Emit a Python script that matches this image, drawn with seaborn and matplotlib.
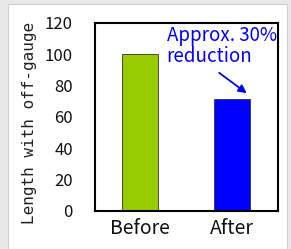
import matplotlib
matplotlib.use("Agg")
import matplotlib.pyplot as plt
from matplotlib.patches import Rectangle
import seaborn as sns
import pandas as pd

# values
periods = ["Before", "After"]
lengths = [100, 71]
bar_colors = ["#99cc00", "#0000ff"]
y_ticks = [0, 20, 40, 60, 80, 100, 120]

sns.set_style("white")
plt.rcParams['font.family'] = ['Noto Sans CJK JP', 'DejaVu Sans']

df = pd.DataFrame({"period": periods, "length": lengths})

fig = plt.figure(figsize=(2.91, 2.49), dpi=100, facecolor="#e8e8e8")
# white panel inside the grey frame
fig.patches.append(Rectangle((8 / 291, 0), 279 / 291, 245 / 249,
                             transform=fig.transFigure, facecolor="white",
                             edgecolor="#d0d0d0", linewidth=0.8, zorder=-5))
ax = fig.add_axes([95 / 291, 38.3 / 249, 183 / 291, 188 / 249])

sns.barplot(data=df, x="period", y="length", hue="period", palette=bar_colors,
            saturation=1, width=0.39, edgecolor="#333333", linewidth=0.6,
            legend=False, ax=ax)

ax.set_xlim(-0.49, 1.5)
ax.set_ylim(0, 120)
ax.set_yticks(y_ticks)
ax.set_xlabel("")
ax.set_ylabel("Length with off-gauge", fontsize=11.5, family="DejaVu Sans Mono",
              color="#222222")
ax.yaxis.set_label_coords(-0.315, 0.465)
ax.tick_params(axis="y", direction="in", length=5, width=1, labelsize=12,
               pad=16, labelcolor="#111111")
ax.tick_params(axis="x", length=0, labelsize=14, pad=5, labelcolor="#111111")
for s in ax.spines.values():
    s.set_visible(True)
    s.set_color("black")
    s.set_linewidth(1.5)

# annotation text and its arrow
ax.text(0.29, 92, "Approx. 30%\nreduction", color="#0000ff", fontsize=13.5,
        linespacing=0.95, ha="left", va="bottom")
ax.annotate("", xy=(1.16, 75), xytext=(0.86, 88),
            arrowprops=dict(arrowstyle="-|>", color="#0000ff", lw=1.3,
                            shrinkA=0, shrinkB=0, mutation_scale=12))

fig.savefig("out.png", dpi=100, facecolor=fig.get_facecolor())
